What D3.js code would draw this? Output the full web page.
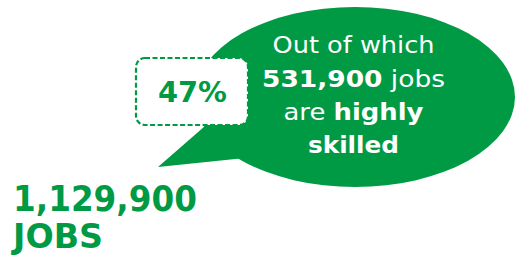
<!DOCTYPE html>
<html><head><meta charset="utf-8">
<script src="https://cdn.jsdelivr.net/npm/d3@7"></script>
<style>html,body{margin:0;padding:0;background:#fff;}svg{display:block;}</style>
</head><body>
<script>
const totalJobs = [1129900];
const skilledJobs = [531900];
const skilledShare = [47];
const bubbleLines = [
  [{t:"Out of which", b:false}],
  [{t:"531,900", b:true},{t:" jobs", b:false}],
  [{t:"are ", b:false},{t:"highly", b:true}],
  [{t:"skilled", b:true}]
];
const lineWidths = [162, 183, 140, 91];
const green = "#009a44";
const W = 516, H = 256;
const fmt = d3.format(",");
const svg = d3.select("body").append("svg").attr("width", W).attr("height", H);
const font = "'DejaVu Sans', Verdana, sans-serif";

// bubble
const g = svg.append("g");
g.append("ellipse").attr("cx", 355).attr("cy", 97).attr("rx", 160).attr("ry", 90).attr("fill", green);
g.append("path").attr("d", d3.line()([[205,126],[158,167],[245,158],[260,140]])).attr("fill", green);

// text in bubble
const ys = [53, 87, 120, 153];
bubbleLines.forEach((line, i) => {
  const t = g.append("text").attr("x", 353.5).attr("y", ys[i]).attr("text-anchor", "middle")
    .attr("font-family", font).attr("font-size", 23.5).attr("fill", "#fff")
    .attr("textLength", lineWidths[i]).attr("lengthAdjust", "spacingAndGlyphs");
  line.forEach(s => t.append("tspan").attr("font-weight", s.b ? "bold" : "normal").text(s.t));
});

// dashed box
g.append("rect").attr("x", 136).attr("y", 58).attr("width", 112).attr("height", 67).attr("rx", 9)
  .attr("fill", "#fff").attr("stroke", green).attr("stroke-width", 2.2).attr("stroke-dasharray", "5,2.5");
g.append("text").attr("x", 192.5).attr("y", 102).attr("text-anchor", "middle")
  .attr("font-family", font).attr("font-weight", "bold").attr("font-size", 28).attr("fill", green)
  .attr("textLength", 69).attr("lengthAdjust", "spacingAndGlyphs")
  .text(skilledShare[0] + "%");

// total
svg.append("text").attr("x", 13).attr("y", 211).attr("font-family", font).attr("font-weight", "bold")
  .attr("font-size", 35).attr("fill", green)
  .attr("textLength", 184).attr("lengthAdjust", "spacingAndGlyphs").text(fmt(totalJobs[0]));
svg.append("text").attr("x", 13).attr("y", 248).attr("font-family", font).attr("font-weight", "bold")
  .attr("font-size", 33).attr("fill", green)
  .attr("textLength", 90).attr("lengthAdjust", "spacingAndGlyphs").text("JOBS");
</script>
</body></html>
